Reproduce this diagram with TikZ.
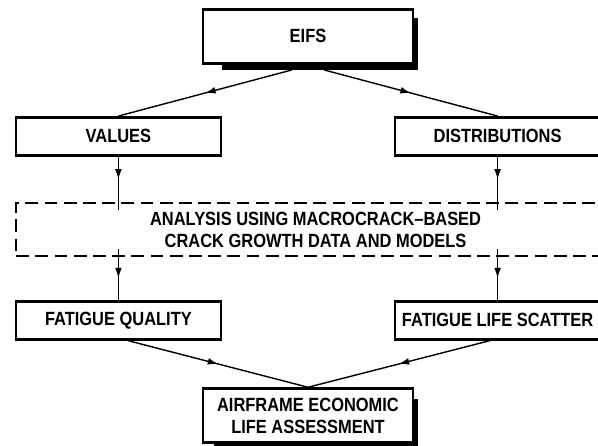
\documentclass[tikz,border=0pt]{standalone}
\usepackage{fontspec}
\setmainfont[FakeStretch=0.86]{Liberation Sans}
\usetikzlibrary{arrows.meta,decorations.markings}

\begin{document}
\begin{tikzpicture}[
        box/.style={draw, line width=1.9pt, minimum width=5.125cm, minimum height=0.95cm, inner sep=0pt,
            align=center, font=\fontsize{13.6}{15.5}\selectfont\bfseries},
        widebox/.style={box, minimum width=5.25cm, minimum height=1.35cm},
        midarrow/.style={line width=1pt, postaction={decorate}, decoration={markings,
            mark=at position #1 with {\arrow{Latex[length=2.6mm,width=1.7mm]}}}},
        midarrow/.default=0.5
    ]
        \useasboundingbox (0,0) rectangle (14.95,11.15);
        \clip (0,0) rectangle (14.95,11.15);

        \node[widebox] (eifs) at (7.7, 10.24) {EIFS};
        \fill ([xshift=0.5cm]eifs.south west) rectangle ([xshift=0.1cm,yshift=-0.13cm]eifs.south east);
        \fill ([yshift=-0.25cm]eifs.north east) rectangle ([xshift=0.1cm,yshift=-0.13cm]eifs.south east);

        \node[box] (values) at (2.96, 7.74) {VALUES};
        \node[box] (dist) at (12.44, 7.74) {DISTRIBUTIONS};

        \node[box, dash pattern=on 0.32cm off 0.16cm, minimum width=14.975cm, minimum height=1.325cm]
            (analysis) at (7.89, 5.41) {ANALYSIS USING MACROCRACK--BASED\\CRACK GROWTH DATA AND MODELS};

        \node[box] (fq) at (2.96, 3.14) {FATIGUE QUALITY};
        \node[box] (fls) at (12.44, 3.14) {FATIGUE LIFE SCATTER};

        \node[widebox] (air) at (7.7, 0.76) {AIRFRAME ECONOMIC\\LIFE ASSESSMENT};
        \fill ([yshift=-0.3cm]air.north east) rectangle ([xshift=0.1cm,yshift=-0.05cm]air.south east);
        \fill ([xshift=0.3cm]air.south west) rectangle ([xshift=0.1cm,yshift=-0.05cm]air.south east);

        \draw[midarrow] ([xshift=-0.4cm,yshift=-0.13cm]eifs.south) -- (values.north);
        \draw[midarrow] ([xshift=0.4cm,yshift=-0.13cm]eifs.south) -- (dist.north);
        \draw[midarrow=0.43] (values.south) -- ([yshift=-0.2cm]values |- analysis.north);
        \draw[midarrow=0.43] (dist.south) -- ([yshift=-0.2cm]dist |- analysis.north);
        \draw[midarrow=0.57] ([yshift=0.2cm]values |- analysis.south) -- (fq.north);
        \draw[midarrow=0.57] ([yshift=0.2cm]dist |- analysis.south) -- (fls.north);
        \draw[midarrow] ([xshift=0.25cm]fq.south) -- (air.north);
        \draw[midarrow] ([xshift=-0.2cm]fls.south) -- (air.north);
\end{tikzpicture}
\end{document}
